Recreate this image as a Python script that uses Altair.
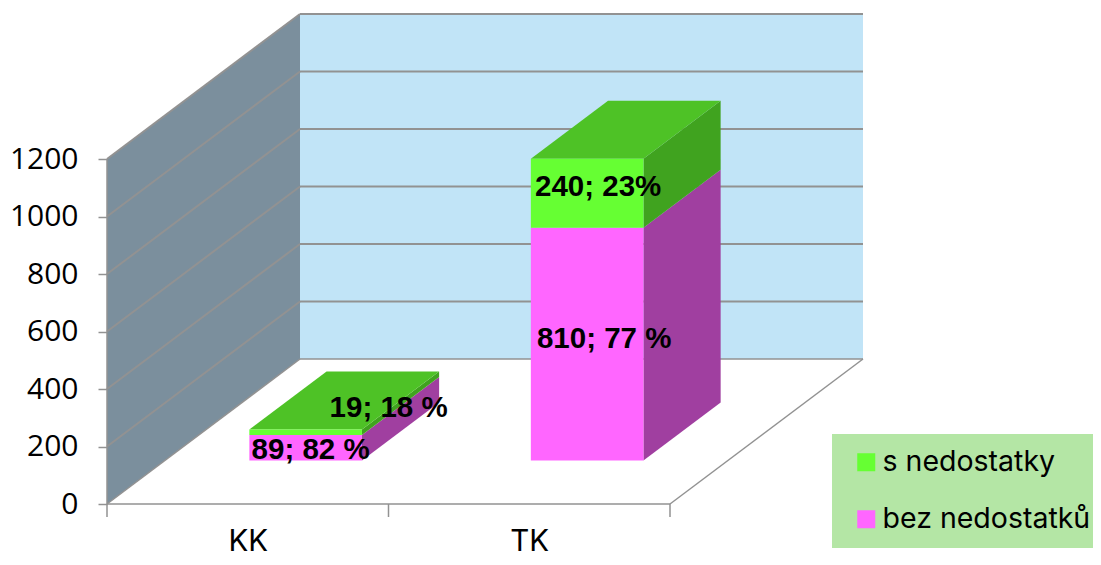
import altair as alt
import pandas as pd

categories = ["KK", "TK"]
series = ["bez nedostatků", "s nedostatky"]
values_bez = [89, 810]
values_s = [19, 240]
labels_bez = ["89; 82 %", "810; 77 %"]
labels_s = ["19; 18 %", "240; 23%"]
y_ticks = [0, 200, 400, 600, 800, 1000, 1200]

C_FRONT = {"bez nedostatků": "#FF66FF", "s nedostatky": "#66FF33"}
C_SIDE = {"bez nedostatků": "#A03FA0", "s nedostatky": "#40A31F"}
C_TOP = "#4EC226"
C_WALL = "#7B8F9D"
C_BACK = "#C1E4F7"
C_LINE = "#929292"
C_LEG = "#B4E6A5"
FONT = "Inter"
AXFONT = "Open Sans"
BOLD = "Liberation Sans"

CAT_PX = 281.5
VAL_PX = 0.2875
DX = 193 / CAT_PX
DY = 145 / VAL_PX
W, H = 986, 491
BAR0, BAR1 = 0.3, 0.7
D0, D1 = 0.3, 0.7


def px(c, d):
    return c + d * DX


def py(v, d):
    return v + d * DY


xs = alt.Scale(domain=[0, W / CAT_PX], nice=False, zero=False)
ys = alt.Scale(domain=[0, H / VAL_PX], nice=False, zero=False)
x_axis = alt.Axis(values=[0.5, 1.5], ticks=False, domain=False, grid=False, title=None,
                  labelExpr="datum.value < 1 ? 'KK' : 'TK'", labelFont=FONT, labelFontSize=29.5,
                  labelColor="#000000", labelPadding=23, labelAngle=0, labelFlush=False, labelOverlap=False)
y_axis = alt.Axis(values=y_ticks, format="d", domain=False, grid=False, title=None, tickSize=9, tickColor=C_LINE,
                  tickWidth=1.5, labelFont=AXFONT, labelFontSize=30, labelColor="#000000", labelPadding=20)
XN = alt.X("x:Q", scale=xs, axis=x_axis)
YN = alt.Y("y:Q", scale=ys, axis=y_axis)


def vband(rows, color):
    return alt.Chart(pd.DataFrame(rows)).mark_area(color=color, opacity=1).encode(
        x=XN, y=YN, y2=alt.Y2("y2:Q"), detail="f:N")


def hband(rows, color):
    return alt.Chart(pd.DataFrame(rows)).mark_area(color=color, opacity=1, orient="horizontal").encode(
        y=YN, x=XN, x2=alt.X2("x2:Q"), detail="f:N")


def lines(rows, w=1.5):
    return alt.Chart(pd.DataFrame(rows)).mark_line(color=C_LINE, strokeWidth=w).encode(
        x=XN, y=YN, detail="f:N")


top_v = y_ticks[-1]
layers = []
# walls
layers.append(vband([
    {"f": "w", "x": px(0, d), "y": py(0, d), "y2": py(top_v, d)} for d in (0, 1)], C_WALL))
layers.append(vband([
    {"f": "b", "x": px(c, 1), "y": py(0, 1), "y2": py(top_v, 1)} for c in (0, 2)], C_BACK))
# gridlines
grid = []
for v in y_ticks[1:]:
    grid += [{"f": f"l{v}", "x": px(0, 0), "y": py(v, 0)}, {"f": f"l{v}", "x": px(0, 1), "y": py(v, 1)},
             {"f": f"b{v}", "x": px(0, 1), "y": py(v, 1)}, {"f": f"b{v}", "x": px(2, 1), "y": py(v, 1)}]
layers.append(lines(grid, 2))
# floor outline
floor = [{"f": "a", "x": px(0, 0), "y": 0}, {"f": "a", "x": px(0, 1), "y": py(0, 1)},
         {"f": "c", "x": px(0, 1), "y": py(0, 1)}, {"f": "c", "x": px(2, 1), "y": py(0, 1)},
         {"f": "d", "x": px(2, 1), "y": py(0, 1)}, {"f": "d", "x": px(2, 0), "y": 0},
         {"f": "e", "x": px(0, 0), "y": 0}, {"f": "e", "x": px(2, 0), "y": 0},
         {"f": "g", "x": px(0, 0), "y": 0}, {"f": "g", "x": px(0, 0), "y": top_v}]
layers.append(lines(floor, 1.5))
# x ticks
layers.append(alt.Chart(pd.DataFrame({"x": [0, 1, 2]})).mark_rule(color=C_LINE, strokeWidth=1.5).encode(
    x=XN, y=alt.value(H), y2=alt.value(H + 13)))

# bars
front, side = [], []
top = []
for i, cat in enumerate(categories):
    base = 0
    for s, val in ((series[0], values_bez[i]), (series[1], values_s[i])):
        a, b = base, base + val
        x0, x1 = i + BAR0, i + BAR1
        front.append({"series": s, "x": px(x0, D0), "x2": px(x1, D0), "y": py(a, D0), "y2": py(b, D0)})
        for d in (D0, D1):
            side.append({"s": s, "f": f"{cat}{s}", "x": px(x1, d), "y": py(a, d), "y2": py(b, d)})
        base = b
    for d in (D0, D1):
        top.append({"f": cat, "y": py(base, d), "x": px(i + BAR0, d), "x2": px(i + BAR1, d)})

side_df = pd.DataFrame(side)
for s in series:
    layers.append(vband(side_df[side_df.s == s].to_dict("records"), C_SIDE[s]))
layers.append(hband(top, C_TOP))

legend = alt.Legend(orient="none", legendX=725, legendY=421, title=None, fillColor=C_LEG, padding=14,
                    symbolType="square", symbolSize=324, symbolStrokeWidth=0, symbolOffset=6, labelFont=FONT,
                    labelFontSize=28.5, labelColor="#000000", labelOffset=2, rowPadding=28, labelLimit=400)
layers.append(alt.Chart(pd.DataFrame(front)).mark_rect(opacity=1).encode(
    x=XN,
    x2=alt.X2("x2:Q"),
    y=YN,
    y2=alt.Y2("y2:Q"),
    color=alt.Color("series:N", scale=alt.Scale(domain=[series[1], series[0]],
                                                range=[C_FRONT[series[1]], C_FRONT[series[0]]]), legend=legend),
))

# data labels
lab = []
offs = {(0, 0): (5, -2), (0, 1): (83, 24), (1, 0): (17, 5), (1, 1): (11, 6)}
for i in range(2):
    base = 0
    for j, (val, txt) in enumerate(((values_bez[i], labels_bez[i]), (values_s[i], labels_s[i]))):
        ox, oy = offs[(i, j)]
        lab.append({"t": txt,
                    "x": px(i + 0.5, D0) + ox / CAT_PX,
                    "y": py(base + val / 2, D0) + oy / VAL_PX})
        base += val
layers.append(alt.Chart(pd.DataFrame(lab)).mark_text(font=BOLD, fontWeight="bold", fontSize=29.5, color="#000000",
                                                      align="center", baseline="middle").encode(
    x=XN, y=YN, text="t:N"))

chart = alt.layer(*layers).properties(
    width=W, height=H, autosize=alt.AutoSizeParams(type="none"),
    padding={"left": 99, "top": 5, "right": 0, "bottom": 53},
    background="#FFFFFF",
).configure_view(stroke=None)

chart.save("out.html", embed_options={"renderer": "svg", "actions": False})
